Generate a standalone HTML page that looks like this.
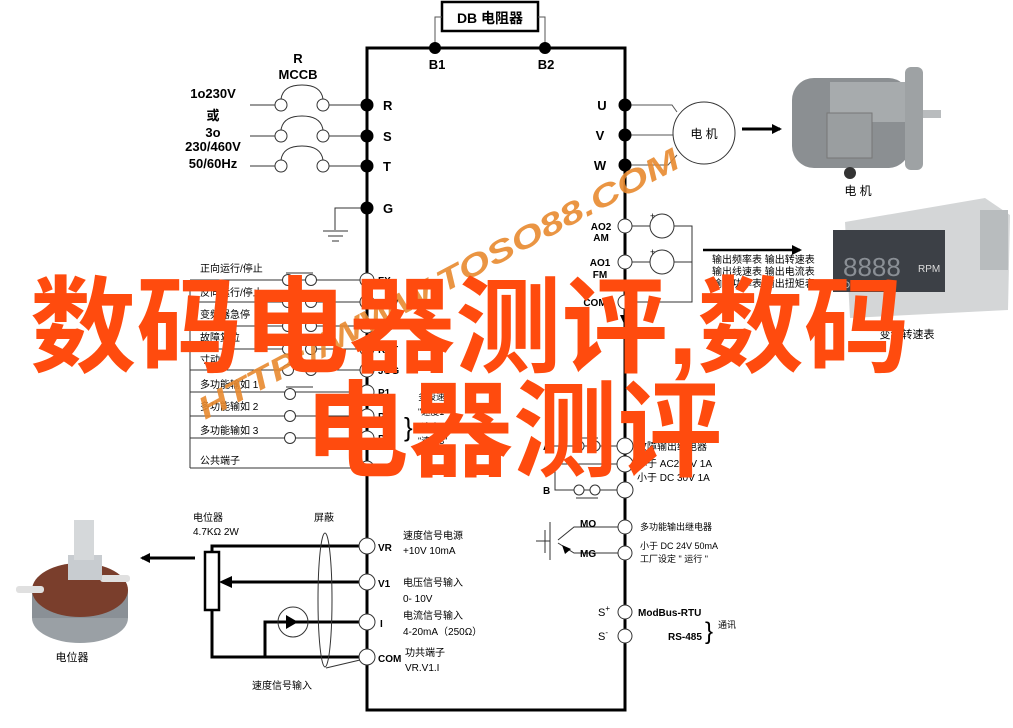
<!DOCTYPE html>
<html><head><meta charset="utf-8"><style>
html,body{margin:0;padding:0;background:#fff;}
svg{display:block;}
text{font-family:"Liberation Sans","Noto Sans CJK SC",sans-serif;}
</style></head><body>
<svg width="1013" height="728" viewBox="0 0 1013 728" xmlns="http://www.w3.org/2000/svg">
<defs>
<marker id="ah" markerWidth="10" markerHeight="10" refX="8" refY="5" orient="auto" markerUnits="userSpaceOnUse"><path d="M0,0 L10,5 L0,10 z" fill="#000"/></marker>
</defs>
<rect width="1013" height="728" fill="#fff"/>
<path d="M367,48 H625 V710 H367 Z" fill="none" stroke="#000" stroke-width="3"/>
<rect x="442" y="2" width="96" height="29" fill="#fff" stroke="#000" stroke-width="2.5"/>
<text x="490" y="23" font-size="14" font-weight="bold" text-anchor="middle">DB 电阻器</text>
<path d="M435,48 V17 H442 M545,48 V17 H538" fill="none" stroke="#555" stroke-width="1"/>
<circle cx="435" cy="48" r="6"/><circle cx="545" cy="48" r="6"/>
<text x="437" y="69" font-size="13" font-weight="bold" text-anchor="middle">B1</text>
<text x="546" y="69" font-size="13" font-weight="bold" text-anchor="middle">B2</text>
<g stroke="#333" stroke-width="1" fill="#fff">
<line x1="250" y1="105" x2="275" y2="105"/><line x1="329" y1="105" x2="367" y2="105"/>
<line x1="250" y1="136" x2="275" y2="136"/><line x1="329" y1="136" x2="367" y2="136"/>
<line x1="250" y1="166" x2="275" y2="166"/><line x1="329" y1="166" x2="367" y2="166"/>
<circle cx="281" cy="105" r="6"/><circle cx="323" cy="105" r="6"/>
<circle cx="281" cy="136" r="6"/><circle cx="323" cy="136" r="6"/>
<circle cx="281" cy="166" r="6"/><circle cx="323" cy="166" r="6"/>
<path d="M281,99 Q283,85 302,85 Q321,85 323,99" fill="none"/>
<path d="M281,130 Q283,116 302,116 Q321,116 323,130" fill="none"/>
<path d="M281,160 Q283,146 302,146 Q321,146 323,160" fill="none"/>
<path d="M367,208 H335 V230" fill="none"/>
<line x1="323" y1="231" x2="348" y2="231"/><line x1="328" y1="236" x2="343" y2="236"/><line x1="332" y1="241" x2="339" y2="241"/>
</g>
<g fill="#000"><circle cx="367" cy="105" r="6.5"/><circle cx="367" cy="136" r="6.5"/><circle cx="367" cy="166" r="6.5"/><circle cx="367" cy="208" r="6.5"/></g>
<g font-size="13" font-weight="bold">
<text x="383" y="110">R</text><text x="383" y="141">S</text><text x="383" y="171">T</text><text x="383" y="213">G</text>
<text x="298" y="63" text-anchor="middle">R</text><text x="298" y="79" text-anchor="middle">MCCB</text>
<text x="213" y="98" text-anchor="middle">1o230V</text><text x="213" y="120" text-anchor="middle">或</text>
<text x="213" y="137" text-anchor="middle">3o</text><text x="213" y="151" text-anchor="middle">230/460V</text>
<text x="213" y="168" text-anchor="middle">50/60Hz</text>
<text x="602" y="110" text-anchor="middle">U</text><text x="600" y="140" text-anchor="middle">V</text><text x="600" y="170" text-anchor="middle">W</text>
</g>
<g stroke="#555" stroke-width="1" fill="none">
<path d="M625,105 H672 L677,112"/><path d="M625,135 H673"/><path d="M625,165 H668 L677,155"/>
</g>
<g fill="#000"><circle cx="625" cy="105" r="6.5"/><circle cx="625" cy="135" r="6.5"/><circle cx="625" cy="165" r="6.5"/></g>
<circle cx="704" cy="133" r="31" fill="#fff" stroke="#333" stroke-width="1"/>
<text x="704" y="138" font-size="12" text-anchor="middle">电 机</text>
<line x1="742" y1="129" x2="780" y2="129" stroke="#000" stroke-width="3" marker-end="url(#ah)"/>
<g>
<rect x="792" y="78" width="118" height="90" rx="22" fill="#8b8f92"/>
<rect x="830" y="82" width="80" height="40" fill="#a7abad"/>
<rect x="827" y="113" width="45" height="45" fill="#9a9ea0" stroke="#777"/>
<rect x="905" y="67" width="18" height="103" rx="6" fill="#9ea2a4"/>
<rect x="923" y="110" width="18" height="8" fill="#b9bcbe"/>
<circle cx="850" cy="173" r="6" fill="#333"/>
</g>
<text x="858" y="195" font-size="12" text-anchor="middle">电 机</text>
<g stroke="#333" stroke-width="1" fill="#fff">
<path d="M632,226 H650 M674,226 H692 V302 H632 M632,262 H650 M674,262 H692"/>
<circle cx="662" cy="226" r="12"/><circle cx="662" cy="262" r="12"/>
<circle cx="625" cy="226" r="7"/><circle cx="625" cy="262" r="7"/><circle cx="625" cy="302" r="7"/>
</g>
<text x="650" y="219" font-size="9">+</text><text x="650" y="255" font-size="9">+</text>
<g font-size="10" font-weight="bold" text-anchor="middle">
<text x="601" y="230">AO2</text><text x="601" y="241">AM</text>
<text x="600" y="266">AO1</text><text x="600" y="278">FM</text>
<text x="595" y="306">COM</text>
</g>
<path d="M620,315 L630,315 L625,326 Z"/>
<line x1="703" y1="250" x2="800" y2="250" stroke="#000" stroke-width="2.5" marker-end="url(#ah)"/>
<g font-size="10">
<text x="712" y="263">输出频率表  输出转速表</text>
<text x="712" y="275">输出线速表  输出电流表</text>
<text x="712" y="287">输出功率表  输出扭矩表</text>
</g>
<g>
<path d="M845,222 L985,198 L1010,215 L1008,310 L850,318 Z" fill="#d4d6d7"/>
<rect x="980" y="210" width="28" height="60" fill="#b8bcbe"/>
<rect x="833" y="230" width="112" height="62" fill="#3c4046"/>
<text x="843" y="276" font-size="26" fill="#8a8f95" font-family="Liberation Mono">8888</text>
<text x="918" y="272" font-size="10" fill="#ddd">RPM</text>
<text x="838" y="288" font-size="9" fill="#ccc">TDE</text>
</g>
<text x="907" y="338" font-size="11" text-anchor="middle">变频转速表</text>
<g stroke="#333" stroke-width="1" fill="#fff">
<line x1="190" y1="280" x2="190" y2="468"/>
<path d="M190,280 H282 M294,280 H305 M317,280 H360"/>
<path d="M190,302 H282 M317,302 H360"/>
<path d="M190,326 H282 M317,326 H360"/>
<path d="M190,349 H282 M317,349 H360"/>
<path d="M190,370 H282 M317,370 H360"/>
<path d="M190,392 H360"/><path d="M190,416 H360"/><path d="M190,438 H360"/><path d="M190,468 H360"/>
<path d="M286,273 H313 M286,387 H313"/>
<circle cx="288" cy="280" r="5.5"/><circle cx="311" cy="280" r="5.5"/>
<circle cx="288" cy="302" r="5.5"/><circle cx="311" cy="302" r="5.5"/>
<circle cx="288" cy="326" r="5.5"/><circle cx="311" cy="326" r="5.5"/>
<circle cx="288" cy="349" r="5.5"/><circle cx="311" cy="349" r="5.5"/>
<circle cx="288" cy="370" r="5.5"/><circle cx="311" cy="370" r="5.5"/>
<circle cx="290" cy="394" r="5.5"/><circle cx="290" cy="416" r="5.5"/><circle cx="290" cy="438" r="5.5"/>
<circle cx="367" cy="280" r="7"/><circle cx="367" cy="302" r="7"/><circle cx="367" cy="326" r="7"/>
<circle cx="367" cy="349" r="7"/><circle cx="367" cy="370" r="7"/><circle cx="367" cy="392" r="7"/>
<circle cx="367" cy="416" r="7"/><circle cx="367" cy="438" r="7"/><circle cx="367" cy="468" r="7"/>
</g>
<g font-size="10">
<text x="200" y="272">正向运行/停止</text><text x="200" y="296">反向运行/停止</text>
<text x="200" y="318">变频器急停</text><text x="200" y="341">故障复位</text>
<text x="200" y="363">寸动</text><text x="200" y="388">多功能输如 1</text>
<text x="200" y="410">多功能输如 2</text><text x="200" y="434">多功能输如 3</text>
<text x="200" y="464">公共端子</text>
</g>
<g font-size="10" font-weight="bold">
<text x="378" y="284">FX</text><text x="378" y="306">REV</text><text x="378" y="330">BX</text>
<text x="378" y="353">RST</text><text x="378" y="374">JOG</text><text x="378" y="396">P1</text>
<text x="378" y="420">P2</text><text x="378" y="442">P3</text><text x="378" y="472">CM</text>
</g>
<text x="404" y="436" font-size="26" font-family="Liberation Serif">}</text>
<g font-size="9"><text x="418" y="400">多段速度</text><text x="418" y="415">"速度1"</text><text x="418" y="430">"速度2"</text><text x="418" y="444">"速度3"</text></g>
<g stroke="#333" stroke-width="1" fill="#fff">
<path d="M545,446 H574 M584,446 H590 M600,446 H617"/>
<path d="M555,464 H617 M555,464 V490 H574 M584,490 H590 M600,490 H617"/>
<path d="M576,438 H598 M576,498 H598"/>
<circle cx="579" cy="446" r="5"/><circle cx="595" cy="446" r="5"/>
<circle cx="579" cy="490" r="5"/><circle cx="595" cy="490" r="5"/>
<circle cx="625" cy="446" r="8"/><circle cx="625" cy="464" r="8"/><circle cx="625" cy="490" r="8"/>
</g>
<g font-size="10" font-weight="bold"><text x="543" y="450">A</text><text x="543" y="494">B</text></g>
<g font-size="10"><text x="637" y="450">故障输出继电器</text><text x="637" y="467">小于 AC250V 1A</text><text x="637" y="481">小于 DC 30V 1A</text></g>
<g stroke="#333" stroke-width="1" fill="#fff">
<path d="M618,527 H574 L558,540 M618,553 H574 L558,543"/>
<path d="M545,530 V553 M550,522 V560 M536,541 H550"/>
<circle cx="625" cy="527" r="7"/><circle cx="625" cy="553" r="7"/>
<circle cx="625" cy="612" r="7"/><circle cx="625" cy="636" r="7"/>
</g>
<path d="M562,545 L571,549 L565,554 Z"/>
<g font-size="10" font-weight="bold"><text x="580" y="527">MO</text><text x="580" y="557">MG</text></g>
<g font-size="9"><text x="640" y="530">多功能输出继电器</text><text x="640" y="549">小于 DC 24V 50mA</text><text x="640" y="562">工厂设定 " 运行 "</text></g>
<g font-size="11"><text x="598" y="616">S<tspan font-size="8" dy="-5">+</tspan></text><text x="598" y="640">S<tspan font-size="8" dy="-5">-</tspan></text></g>
<g font-size="10" font-weight="bold"><text x="638" y="616">ModBus-RTU</text><text x="668" y="640">RS-485</text></g>
<text x="705" y="639" font-size="24" font-family="Liberation Serif">}</text>
<text x="718" y="628" font-size="9">通讯</text>
<g stroke="#000" stroke-width="3" fill="none">
<path d="M360,546 H212 V552"/>
<path d="M212,610 V657 H360"/>
<path d="M360,622 H265 V657"/>
<line x1="360" y1="582" x2="228" y2="582"/>
</g>
<path d="M219,582 L232,576 L232,588 Z"/>
<rect x="205" y="552" width="14" height="58" fill="#fff" stroke="#000" stroke-width="2.5"/>
<circle cx="293" cy="622" r="15" fill="none" stroke="#333" stroke-width="1"/>
<path d="M298,622 L286,615 L286,629 Z"/>
<ellipse cx="325" cy="600" rx="7" ry="67" fill="none" stroke="#333" stroke-width="1"/>
<path d="M326,668 L360,660" stroke="#333" stroke-width="1"/>
<g stroke="#333" stroke-width="1" fill="#fff">
<circle cx="367" cy="546" r="8"/><circle cx="367" cy="582" r="8"/><circle cx="367" cy="622" r="8"/><circle cx="367" cy="657" r="8"/>
</g>
<line x1="195" y1="558" x2="142" y2="558" stroke="#000" stroke-width="3" marker-end="url(#ah)"/>
<g font-size="10" font-weight="bold"><text x="378" y="551">VR</text><text x="378" y="587">V1</text><text x="380" y="627">I</text><text x="378" y="662">COM</text></g>
<g font-size="10">
<text x="403" y="539">速度信号电源</text><text x="403" y="554">+10V 10mA</text>
<text x="403" y="586">电压信号输入</text><text x="403" y="602">0- 10V</text>
<text x="403" y="619">电流信号输入</text><text x="403" y="635">4-20mA（250Ω）</text>
<text x="405" y="656">功共端子</text><text x="405" y="671">VR.V1.I</text>
<text x="193" y="521">电位器</text><text x="193" y="535">4.7KΩ   2W</text>
<text x="314" y="521">屏蔽</text>
<text x="252" y="689">速度信号输入</text>
</g>
<g>
<ellipse cx="80" cy="618" rx="48" ry="25" fill="#9aa0a5"/>
<rect x="32" y="590" width="96" height="28" fill="#8a9096"/>
<ellipse cx="80" cy="590" rx="48" ry="27" fill="#7a3e2c"/>
<rect x="16" y="586" width="28" height="7" rx="3" fill="#e0e0e0"/>
<rect x="100" y="575" width="30" height="7" rx="3" fill="#e0e0e0"/>
<rect x="68" y="555" width="34" height="25" fill="#c8ccd0"/>
<rect x="74" y="520" width="20" height="40" fill="#d5d8da"/>
</g>
<text x="72" y="661" font-size="11" text-anchor="middle">电位器</text>
<text transform="translate(205,420) rotate(-28)" font-size="31" font-weight="bold" font-style="italic" fill="#e8892f" fill-opacity="0.9" textLength="540" lengthAdjust="spacingAndGlyphs">HTTP://WWW.TOSO88.COM</text>
<g font-family="'Noto Sans CJK SC',sans-serif" font-weight="bold" fill="#ff4b0e">
<text x="30" y="364" font-size="105" textLength="880" lengthAdjust="spacingAndGlyphs">数码电器测评,数码</text>
<text x="304" y="468" font-size="105" textLength="418" lengthAdjust="spacingAndGlyphs">电器测评</text>
</g>
</svg>
</body></html>
